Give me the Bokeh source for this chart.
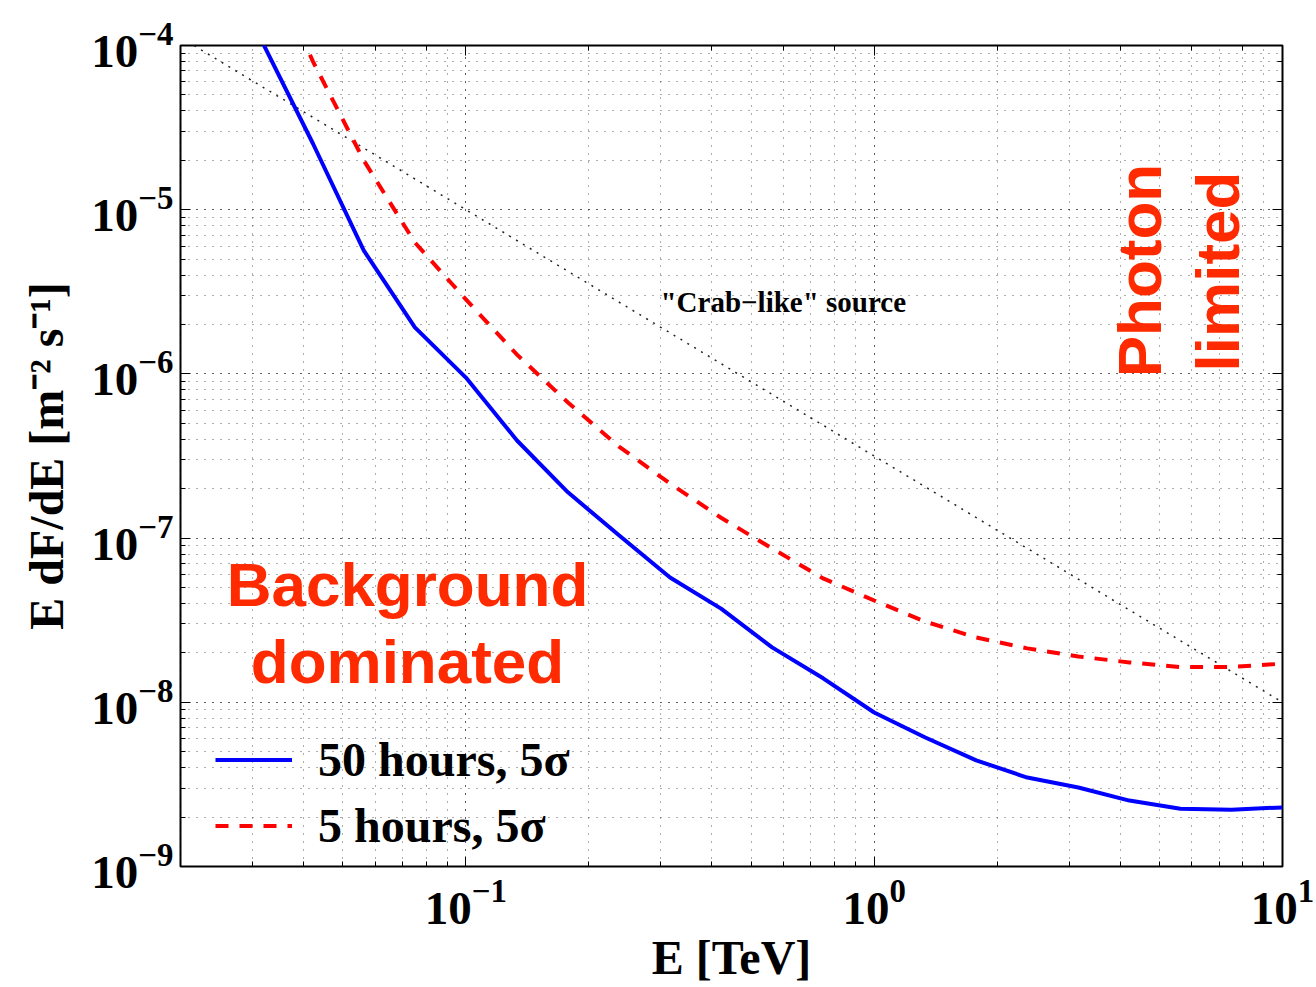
from math import pi
from bokeh.plotting import figure
from bokeh.models import (Label, Legend, LegendItem, LogAxis,
                          CustomJSTickFormatter, LogTickFormatter, Range1d)
from bokeh.embed import file_html
from bokeh.resources import INLINE

# ---------------- data ----------------
energy = [0.0316, 0.0422, 0.0562, 0.0750, 0.1, 0.1334, 0.1778, 0.2371,
          0.3162, 0.4217, 0.5623, 0.7499, 1.0, 1.334, 1.778, 2.371,
          3.162, 4.217, 5.623, 7.499, 10.0]
sens_50h = [1.07e-4, 2.53e-5, 5.65e-6, 1.92e-6, 9.5e-7, 3.93e-7, 1.90e-7,
            1.04e-7, 5.75e-8, 3.72e-8, 2.16e-8, 1.40e-8, 8.67e-9, 6.1e-9,
            4.43e-9, 3.48e-9, 3.03e-9, 2.52e-9, 2.25e-9, 2.22e-9, 2.29e-9]
sens_5h = [4.1e-4, 8.0e-5, 2.0e-5, 6.31e-6, 2.84e-6, 1.31e-6, 6.70e-7,
           3.61e-7, 2.15e-7, 1.33e-7, 8.65e-8, 5.68e-8, 4.17e-8, 3.10e-8,
           2.48e-8, 2.13e-8, 1.90e-8, 1.75e-8, 1.64e-8, 1.64e-8, 1.72e-8]
crab_energy = [0.02, 0.1, 1.0, 10.0]
crab_flux = [1.12e-4, 1.0e-5, 3.16e-7, 1.0e-8]

series_labels = ["50 hours, 5\u03c3", "5 hours, 5\u03c3"]
x_title = "E [TeV]"
y_title = "E dF/dE [m\u207b\u00b2 s\u207b\u00b9]"

SERIF = "Liberation Serif"
SANS = "Liberation Sans"
RED_TXT = "#FF2A00"

X0, X1 = 0.02, 10.0
Y0, Y1 = 1e-9, 1e-4

p = figure(width=1316, height=987, x_axis_type="log", y_axis_type="log",
           x_range=Range1d(X0, X1), y_range=Range1d(Y0, Y1),
           output_backend="svg", toolbar_location=None,
           min_border_left=180, min_border_right=34,
           min_border_top=45, min_border_bottom=121)
p.background_fill_color = "white"
p.border_fill_color = "white"
p.outline_line_color = "black"
p.outline_line_width = 2
p.outline_line_alpha = 1.0

bottom_axis = p.below[0]
left_axis = p.left[0]

blank = CustomJSTickFormatter(code="return ''")
top_axis = LogAxis(formatter=blank)
right_axis = LogAxis(formatter=blank)
p.add_layout(top_axis, "above")
p.add_layout(right_axis, "right")

for ax in [bottom_axis, left_axis, top_axis, right_axis]:
    ax.axis_line_color = None
    ax.major_tick_in = 10
    ax.major_tick_out = 0
    ax.minor_tick_in = 5
    ax.minor_tick_out = 0
    ax.major_tick_line_color = "black"
    ax.minor_tick_line_color = "black"
    ax.major_tick_line_width = 1
    ax.minor_tick_line_width = 1

for ax in [top_axis, right_axis]:
    ax.major_label_standoff = 0

for ax in [bottom_axis, left_axis]:
    ax.formatter = LogTickFormatter()
    ax.major_label_text_font = SERIF
    ax.major_label_text_font_size = "47px"
    ax.major_label_text_font_style = "bold"
    ax.major_label_text_color = "black"
    ax.axis_label_text_font = SERIF
    ax.axis_label_text_font_size = "48px"
    ax.axis_label_text_font_style = "bold"
    ax.axis_label_text_color = "black"

bottom_axis.axis_label = x_title
bottom_axis.major_label_standoff = 14
bottom_axis.axis_label_standoff = 4
left_axis.axis_label = y_title
left_axis.major_label_standoff = 7
left_axis.axis_label_standoff = 15

for g in [p.xgrid[0], p.ygrid[0]]:
    g.grid_line_color = "#333333"
    g.grid_line_dash = "1 7"
    g.grid_line_width = 1
    g.grid_line_alpha = 0.8
    g.minor_grid_line_color = "#333333"
    g.minor_grid_line_dash = "1 7"
    g.minor_grid_line_width = 1
    g.minor_grid_line_alpha = 0.8

# crab-like source
p.line(crab_energy, crab_flux, line_color="#222222", line_width=1.5,
       line_dash="2 6")
# sensitivity curves
r50 = p.line(energy, sens_50h, line_color="#0000FF", line_width=4)
r5 = p.line(energy, sens_5h, line_color="#FF0000", line_width=4,
            line_dash="13 11")

legend = Legend(items=[LegendItem(label=series_labels[0], renderers=[r50]),
                       LegendItem(label=series_labels[1], renderers=[r5])],
                location=(35, 13), orientation="vertical",
                glyph_width=77, glyph_height=55, label_height=55,
                label_standoff=26, spacing=11, padding=0, margin=0,
                border_line_color=None, background_fill_alpha=0,
                label_text_font=SERIF, label_text_font_size="48px",
                label_text_font_style="bold", label_text_color="black")
p.add_layout(legend, "center")


def lab(text, xo, yo, size, font=SERIF, color="black", align="left",
        angle=0.0):
    p.add_layout(Label(x=X0, y=Y0, x_units="data", y_units="data",
                       x_offset=xo, y_offset=yo, text=text,
                       text_font=font, text_font_size=size,
                       text_font_style="bold", text_color=color,
                       text_align=align, text_baseline="alphabetic",
                       angle=angle))


# annotations inside the frame (offsets in px from the frame's lower-left)
lab("\"Crab\u2212like\" source", 480, 565, "29px")
lab("Background", 227, 282, "62px", font=SANS, color=RED_TXT, align="center")
lab("dominated", 227, 205, "62px", font=SANS, color=RED_TXT, align="center")
lab("Photon", 959, 596, "62px", font=SANS, color=RED_TXT, align="center",
    angle=pi / 2)
lab("limited", 1037, 595, "62px", font=SANS, color=RED_TXT, align="center",
    angle=pi / 2)

open("out.html", "w").write(file_html(p, INLINE))
